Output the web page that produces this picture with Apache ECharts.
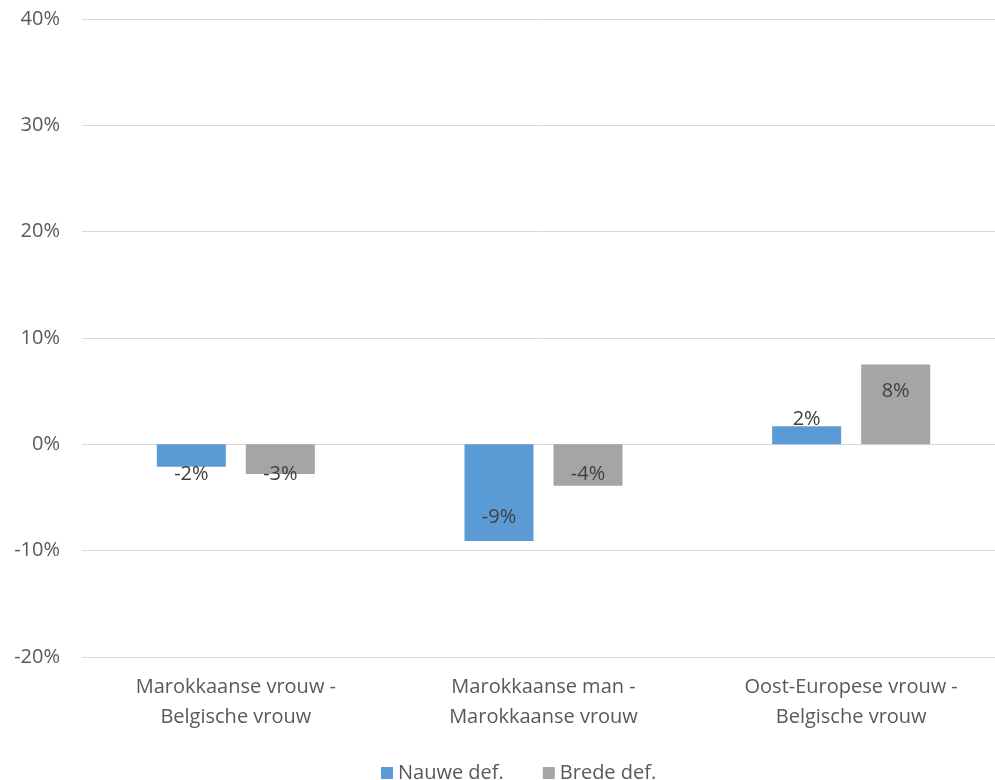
<!DOCTYPE html>
<html>
<head>
<meta charset="utf-8">
<script src="https://cdn.jsdelivr.net/npm/echarts@6/dist/echarts.min.js"></script>
<style>html,body{margin:0;padding:0;background:#fff;overflow:hidden}#c{width:1005px;height:780px}</style>
</head>
<body>
<div id="c"></div>
<script>
var categories = ['Marokkaanse vrouw -\nBelgische vrouw', 'Marokkaanse man -\nMarokkaanse vrouw', 'Oost-Europese vrouw -\nBelgische vrouw'];
var seriesNames = ['Nauwe def.', 'Brede def.'];
var nauwe = [-2.1, -9.1, 1.7];
var brede = [-2.8, -3.9, 7.5];
var yTicks = { min: -20, max: 40, interval: 10 };

var FONT = '"Open Sans", "Noto Sans", sans-serif';
var FS = 20;
var nauweOffsets = [[0, 19], [0, 25], [0, -16]];
var bredeOffsets = [[0, 15], [0, 9], [0, -13]];

function mkData(vals, offs) {
  return vals.map(function (v, i) {
    return { value: v, label: { offset: offs[i] } };
  });
}

var chart = echarts.init(document.getElementById('c'), null, { renderer: 'canvas' });
chart.setOption({
  animation: false,
  textStyle: { fontFamily: FONT },
  grid: { left: 82, right: 0, top: 19, bottom: 123, containLabel: false },
  legend: {
    data: seriesNames,
    left: 376, top: 758,
    itemWidth: 12, itemHeight: 12, itemGap: 39,
    icon: 'rect',
    textStyle: { color: '#595959', fontSize: FS, fontFamily: FONT, padding: [0, 0, 0, 0] }
  },
  xAxis: {
    type: 'category',
    data: categories,
    axisLine: { show: false },
    axisTick: { show: false },
    axisLabel: { color: '#595959', fontSize: FS, lineHeight: 30, margin: 15, fontFamily: FONT, interval: 0 }
  },
  yAxis: {
    type: 'value',
    min: yTicks.min, max: yTicks.max, interval: yTicks.interval,
    axisLine: { show: false },
    axisTick: { show: false },
    splitLine: { lineStyle: { color: '#D9D9D9', width: 1 } },
    axisLabel: { formatter: '{value}%', color: '#595959', fontSize: FS, margin: 22, fontFamily: FONT }
  },
  series: [
    {
      name: seriesNames[0], type: 'bar', barWidth: 69, barGap: '29%',
      itemStyle: { color: '#5B9BD5' },
      label: { show: true, position: 'inside', color: '#404040', fontSize: FS, fontFamily: FONT,
        formatter: function (p) { return Math.round(p.value) + '%'; } },
      data: mkData(nauwe, nauweOffsets)
    },
    {
      name: seriesNames[1], type: 'bar', barWidth: 69,
      itemStyle: { color: '#A5A5A5' },
      label: { show: true, position: 'inside', color: '#404040', fontSize: FS, fontFamily: FONT,
        formatter: function (p) { return Math.round(p.value) + '%'; } },
      data: mkData(brede, bredeOffsets)
    }
  ]
});
</script>
</body>
</html>
